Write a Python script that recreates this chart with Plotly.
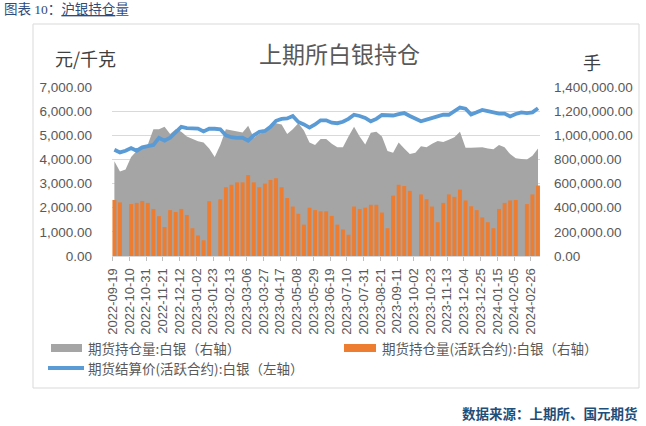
import pandas as pd
import plotly.graph_objects as go

# ---------------- data (weekly readings, week starting 2022-09-19) ----------------
week_start = "2022-09-19"
n_weeks = 77

# 期货结算价(活跃合约):白银 (元/千克, left axis)
price = [4400, 4290, 4360, 4470, 4360, 4500, 4550, 4600, 4890, 4780,
         4900, 5100, 5350, 5300, 5300, 5280, 5160, 5270, 5270, 5250,
         5000, 4920, 4890, 4900, 4780, 5000, 5140, 5180, 5350, 5600,
         5680, 5700, 5800, 5550, 5450, 5320, 5450, 5620, 5620, 5520,
         5500, 5560, 5680, 5850, 5800, 5720, 5580, 5680, 5840, 5820,
         5820, 5880, 5920, 5800, 5680, 5580, 5650, 5720, 5750, 5850,
         5850, 6000, 6150, 6100, 5860, 5950, 6050, 6000, 5930, 5900,
         5900, 5780, 5880, 5950, 5920, 5950, 6120]

# 期货持仓量:白银 (手, right axis)
oi_total = [784000, 700000, 716000, 820000, 870000, 900000, 924000, 1050000, 1050000, 1070000,
            1010000, 1050000, 1030000, 990000, 970000, 950000, 940000, 890000, 820000, 920000,
            1050000, 1040000, 1030000, 1024000, 1080000, 980000, 1010000, 1030000, 1060000, 1100000,
            1090000, 1010000, 1050000, 1100000, 1040000, 940000, 920000, 970000, 970000, 930000,
            900000, 900000, 990000, 1070000, 990000, 924000, 1020000, 1030000, 990000, 870000,
            856000, 940000, 890000, 844000, 856000, 910000, 900000, 930000, 952000, 944000,
            964000, 984000, 1030000, 896000, 896000, 900000, 900000, 890000, 884000, 920000,
            900000, 844000, 810000, 804000, 800000, 830000, 890000]

# 期货持仓量(活跃合约):白银 (手, right axis); None = holiday week without data
oi_active = [464000, 444000, None, 430000, 440000, 456000, 440000, 390000, 330000, 240000,
             380000, 364000, 390000, 340000, 230000, 170000, 130000, 454000, None, 470000,
             570000, 590000, 610000, 610000, 670000, 610000, 570000, 600000, 630000, 644000,
             570000, 480000, 410000, 350000, 260000, 400000, 380000, 370000, 370000, 332000,
             260000, 220000, 176000, 410000, 390000, 400000, 424000, 424000, 360000, 230000,
             500000, 590000, 580000, 540000, None, 510000, 470000, 410000, 280000, 440000,
             510000, 490000, 550000, 460000, 412000, 380000, 320000, 280000, 230000, 390000,
             440000, 460000, 464000, None, 430000, 510000, 584000]

tick_labels = ["2022-09-19", "2022-10-10", "2022-10-31", "2022-11-21", "2022-12-12",
               "2023-01-02", "2023-01-23", "2023-02-13", "2023-03-06", "2023-03-27",
               "2023-04-17", "2023-05-08", "2023-05-29", "2023-06-19", "2023-07-10",
               "2023-07-31", "2023-08-21", "2023-09-11", "2023-10-02", "2023-10-23",
               "2023-11-13", "2023-12-04", "2023-12-25", "2024-01-15", "2024-02-05",
               "2024-02-26"]

series_names = ["期货持仓量:白银（右轴）", "期货持仓量(活跃合约):白银（右轴）",
                "期货结算价(活跃合约):白银（左轴）"]

# ---------------- styling ----------------
GREY = "#A5A5A5"
ORANGE = "#ED7D31"
BLUE = "#5B9BD5"
GRID = "#D9D9D9"
TXT = "#595959"
CJK = "Noto Sans CJK SC"
LAT = "Liberation Sans"

W, H = 646, 426
L, R, T, B = 112, 540, 87, 256   # plot area in pixels

def px(x):
    return (x - L) / (R - L)

def py(y):
    return (B - y) / (B - T)

weeks = pd.date_range(week_start, periods=n_weeks, freq="7D")
centers = weeks + pd.Timedelta(days=2)
tick_dates = [pd.Timestamp(t) for t in tick_labels]

fig = go.Figure()
fig.add_trace(go.Scatter(x=centers, y=oi_total, yaxis="y", mode="lines",
                         line=dict(width=0, color=GREY), fill="tozeroy",
                         fillcolor=GREY, connectgaps=True, name=series_names[0],
                         showlegend=False))
fig.add_trace(go.Bar(x=centers, y=oi_active, yaxis="y2", name=series_names[1],
                     marker=dict(color=ORANGE, line=dict(width=0)),
                     width=4.9 * 86400000, showlegend=False))
fig.add_trace(go.Scatter(x=centers, y=price, yaxis="y3", mode="lines",
                         line=dict(color=BLUE, width=3.8), name=series_names[2],
                         showlegend=False))

fig.update_layout(
    width=W, height=H,
    margin=dict(l=L, r=W - R, t=T, b=H - B, pad=0),
    paper_bgcolor="white", plot_bgcolor="white",
    font=dict(family=LAT, color=TXT),
    xaxis=dict(type="date", range=["2022-09-18", "2024-03-08 12:00"],
               tickmode="array", tickvals=tick_dates, ticktext=tick_labels,
               tickangle=-90, ticks="outside", ticklen=4, tickcolor="#BFBFBF",
               showline=True, linecolor="#D9D9D9", linewidth=1, showgrid=False,
               zeroline=False, ticklabelstandoff=2,
               tickfont=dict(family=LAT, size=13, color=TXT)),
    yaxis=dict(side="right", range=[0, 1400000], dtick=200000, tickformat=",.2f",
               showgrid=True, gridcolor=GRID, gridwidth=1, zeroline=False,
               showline=False, ticks="", ticklabelstandoff=13,
               tickfont=dict(family=LAT, size=13.5, color=TXT)),
    yaxis2=dict(overlaying="y", range=[0, 1400000], visible=False),
    yaxis3=dict(overlaying="y", side="left", range=[0, 7000], dtick=1000,
                tickformat=",.2f", showgrid=False, zeroline=False, showline=False,
                ticks="", ticklabelstandoff=19,
                tickfont=dict(family=LAT, size=13.5, color=TXT)),
    showlegend=False,
)

shapes = []
# outer chart frame
shapes.append(dict(type="rect", xref="paper", yref="paper",
                   x0=px(33), x1=px(639), y0=py(388), y1=py(24),
                   line=dict(color="#D9D9D9", width=1), fillcolor="rgba(0,0,0,0)",
                   layer="below"))
# legend swatches
shapes.append(dict(type="rect", xref="paper", yref="paper",
                   x0=px(51), x1=px(82), y0=py(352), y1=py(344),
                   line=dict(width=0), fillcolor=GREY))
shapes.append(dict(type="rect", xref="paper", yref="paper",
                   x0=px(344), x1=px(376), y0=py(352), y1=py(344),
                   line=dict(width=0), fillcolor=ORANGE))
shapes.append(dict(type="line", xref="paper", yref="paper",
                   x0=px(48), x1=px(84), y0=py(368), y1=py(368),
                   line=dict(color=BLUE, width=4)))
fig.update_layout(shapes=shapes)

ann = []
def text(x, y, s, size, color=TXT, family=CJK, xanchor="left", yanchor="middle"):
    ann.append(dict(x=px(x), y=py(y), xref="paper", yref="paper", text=s,
                    showarrow=False, xanchor=xanchor, yanchor=yanchor, align="left",
                    font=dict(family=family, size=size, color=color)))

text(339, 53, "上期所白银持仓", 23, xanchor="center")
text(53, 58, "元/千克", 18, color="#404040")
text(592, 62, "手", 18, color="#404040", xanchor="center")
text(86, 348, series_names[0], 13.5)
text(380, 348, series_names[1], 13.5)
text(86, 368, series_names[2], 13.5)
text(640, 413, "<b>数据来源：上期所、国元期货</b>", 13.5, color="#1F4E79", xanchor="right")
text(2, 9, "图表 10：<u>沪银持仓</u>量", 13.5, color="#2F4B7C",
     family="Liberation Serif, " + CJK)
fig.update_layout(annotations=ann)

fig.write_html("out.html")
